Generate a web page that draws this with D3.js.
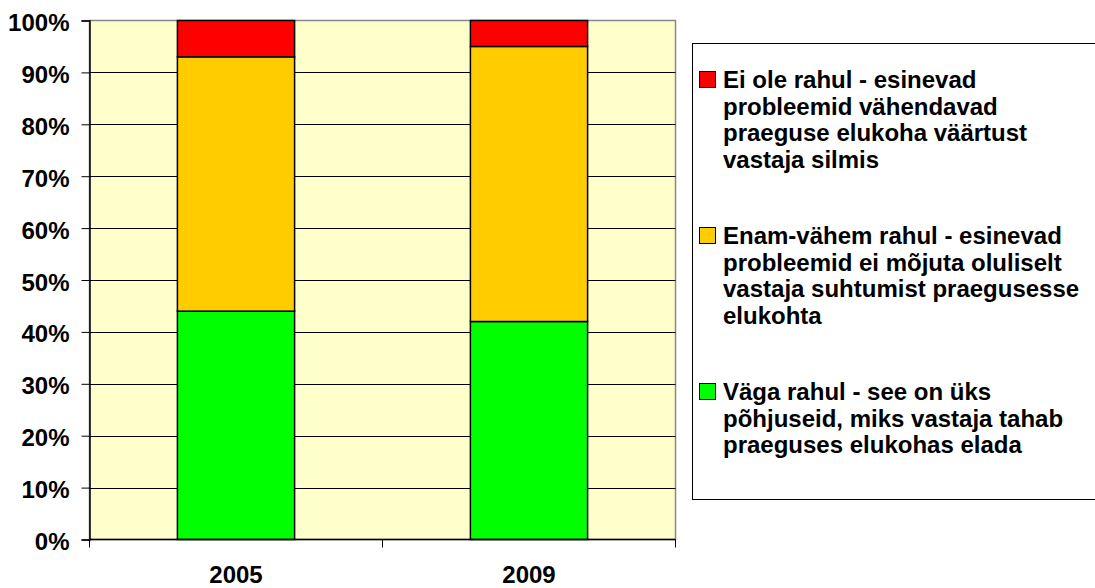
<!DOCTYPE html>
<html>
<head>
<meta charset="utf-8">
<script src="https://cdn.jsdelivr.net/npm/d3@7"></script>
<style>
  body { margin: 0; background: #fff; }
  text { font-family: "Liberation Sans", Arial, sans-serif; font-weight: bold; }
</style>
</head>
<body>
<div id="chart"></div>
<script>
var years = ["2005", "2009"];
var seriesKeys = ["vaga", "enam", "ei"];
var vagaRahul = [44, 42];
var enamVahem = [49, 53];
var eiOle = [7, 5];
var yTicks = [0, 10, 20, 30, 40, 50, 60, 70, 80, 90, 100];
var legendLabels = [
  ["Ei ole rahul - esinevad", "probleemid vähendavad", "praeguse elukoha väärtust", "vastaja silmis"],
  ["Enam-vähem rahul - esinevad", "probleemid ei mõjuta oluliselt", "vastaja suhtumist praegusesse", "elukohta"],
  ["Väga rahul - see on üks", "põhjuseid, miks vastaja tahab", "praeguses elukohas elada"]
];
var legendKeys = ["ei", "enam", "vaga"];

(function() {
  var width = 1095, height = 588;
  var plot = { left: 89.5, right: 675.5, top: 20.5, bottom: 539.5 };
  var fontSize = 24;

  var svg = d3.select("#chart").append("svg")
    .attr("width", width)
    .attr("height", height);

  var rows = years.map(function(y, i) {
    return { year: y, vaga: vagaRahul[i], enam: enamVahem[i], ei: eiOle[i] };
  });

  var stack = d3.stack().keys(seriesKeys);
  var layers = stack(rows);

  var x = d3.scaleBand().domain(years).range([plot.left, plot.right]).padding(0);
  var y = d3.scaleLinear().domain([0, 100]).range([plot.bottom, plot.top]);

  var color = d3.scaleOrdinal()
    .domain(seriesKeys)
    .range(["#00FF00", "#FFCC00", "#FF0000"]);

  // plot background
  svg.append("rect")
    .attr("x", plot.left).attr("y", plot.top)
    .attr("width", plot.right - plot.left)
    .attr("height", plot.bottom - plot.top)
    .attr("fill", "#FFFFCC")
    .attr("stroke", "#888")
    .attr("stroke-width", 1.5);

  // gridlines
  svg.selectAll(".grid")
    .data(yTicks.filter(function(d) { return d > 0 && d < 100; }))
    .enter().append("line")
    .attr("class", "grid")
    .attr("x1", plot.left).attr("x2", plot.right)
    .attr("y1", function(d) { return Math.round(y(d)) + 0.5; })
    .attr("y2", function(d) { return Math.round(y(d)) + 0.5; })
    .attr("stroke", "#000")
    .attr("stroke-width", 1);

  // bars
  var bw = x.bandwidth() * 0.4;
  svg.selectAll(".layer")
    .data(layers)
    .enter().append("g")
    .attr("class", "layer")
    .attr("fill", function(d) { return color(d.key); })
    .selectAll("rect")
    .data(function(d) { return d; })
    .enter().append("rect")
    .attr("x", function(d) { return x(d.data.year) + (x.bandwidth() - bw) / 2; })
    .attr("y", function(d) { return y(d[1]); })
    .attr("width", bw)
    .attr("height", function(d) { return y(d[0]) - y(d[1]); })
    .attr("stroke", "#000")
    .attr("stroke-width", 1.5);

  // y axis
  var yAxis = d3.axisLeft(y)
    .tickValues(yTicks)
    .tickSize(8)
    .tickPadding(12)
    .tickFormat(function(d) { return d + "%"; });
  var gy = svg.append("g")
    .attr("transform", "translate(" + plot.left + ",0)")
    .call(yAxis);
  gy.select(".domain").attr("stroke", "#000").attr("stroke-width", 1.5);
  gy.selectAll(".tick line").attr("stroke", "#000");
  gy.selectAll("text")
    .attr("font-size", fontSize)
    .attr("dy", "0.42em")
    .attr("fill", "#000")
    .attr("font-family", "Liberation Sans, Arial, sans-serif");

  // x axis with boundary ticks
  var gx = svg.append("g");
  gx.append("line")
    .attr("x1", plot.left).attr("x2", plot.right)
    .attr("y1", plot.bottom).attr("y2", plot.bottom)
    .attr("stroke", "#000").attr("stroke-width", 1.5);
  var bounds = years.map(function(d) { return x(d); }).concat([x(years[years.length - 1]) + x.bandwidth()]);
  gx.selectAll(".xtick")
    .data(bounds)
    .enter().append("line")
    .attr("x1", function(d) { return d; }).attr("x2", function(d) { return d; })
    .attr("y1", plot.bottom).attr("y2", plot.bottom + 8)
    .attr("stroke", "#000");
  gx.selectAll(".xlabel")
    .data(years)
    .enter().append("text")
    .attr("x", function(d) { return x(d) + x.bandwidth() / 2; })
    .attr("y", 583)
    .attr("text-anchor", "middle")
    .attr("font-size", fontSize)
    .text(function(d) { return d; });

  // legend
  var legend = svg.append("g");
  legend.append("rect")
    .attr("x", 692.5).attr("y", 43.5)
    .attr("width", 420).attr("height", 456)
    .attr("fill", "#fff")
    .attr("stroke", "#000")
    .attr("stroke-width", 1);

  var itemY = [88, 244, 400];
  var items = legend.selectAll(".item")
    .data(legendKeys)
    .enter().append("g")
    .attr("class", "item")
    .attr("transform", function(d, i) { return "translate(0," + itemY[i] + ")"; });

  items.append("rect")
    .attr("x", 699.5).attr("y", -16.5)
    .attr("width", 16).attr("height", 16)
    .attr("fill", function(d) { return color(d); })
    .attr("stroke", "#000")
    .attr("stroke-width", 1);

  items.each(function(d, i) {
    var t = d3.select(this).append("text")
      .attr("x", 723)
      .attr("y", 0)
      .attr("font-size", fontSize);
    legendLabels[i].forEach(function(line, j) {
      t.append("tspan")
        .attr("x", 723)
        .attr("y", j * 26.7)
        .text(line);
    });
  });
})();
</script>
</body>
</html>
